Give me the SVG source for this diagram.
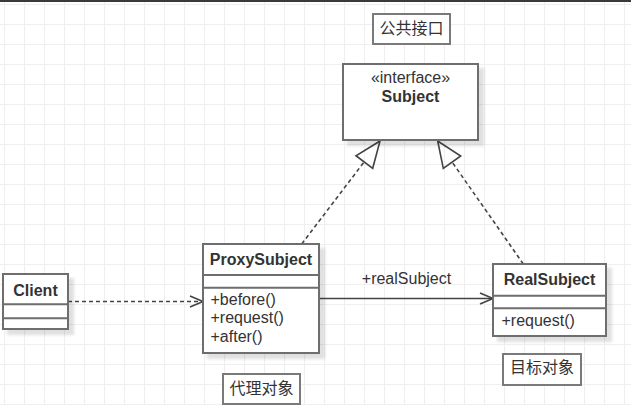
<svg xmlns="http://www.w3.org/2000/svg" width="631" height="405" viewBox="0 0 631 405">
<style>
.box{fill:#fff;stroke:#6e6e6e;stroke-width:2}
.lbl{fill:#fff;stroke:#7a7a7a;stroke-width:2}
.div{stroke:#6e6e6e;stroke-width:2}
.t{font-family:"Liberation Sans",Arial,sans-serif;font-size:16px;fill:#333}
.b{font-weight:bold}
.m{text-anchor:middle}
.cjk{font-family:"Liberation Sans","Noto Sans CJK SC",sans-serif;font-size:16px;fill:#333;text-anchor:middle}
.ln{fill:none;stroke:#444;stroke-width:1.6}
.dash{stroke-dasharray:4 3}
</style>
<defs>
<pattern id="grid" width="20" height="20" patternUnits="userSpaceOnUse" x="4" y="4">
<path d="M0 0.5H20M0.5 0V20" stroke="#efefef" stroke-width="1.2" fill="none"/>
</pattern>
<filter id="sh" x="-20%" y="-20%" width="150%" height="150%">
<feDropShadow dx="5" dy="5" stdDeviation="1.5" flood-color="#000" flood-opacity="0.12"/>
</filter>
</defs>
<rect width="631" height="405" fill="#fff"/>
<rect width="631" height="405" fill="url(#grid)"/>
<rect x="0" y="0" width="631" height="2" fill="#3a3a3a"/>

<g id="connectors">
<g id="client-proxy">
<path class="ln dash" d="M68 301.5H202"/>
<path class="ln" d="M190 296L203 301.5L190 307"/>
</g>
<g id="proxy-real">
<path class="ln" d="M319 298.5H492"/>
<path class="ln" d="M480 293L493 298.5L480 304"/>
<text class="t m" x="406.5" y="284">+realSubject</text>
</g>
<g id="proxy-subject">
<path class="ln dash" d="M301.7 244L364.3 161.7"/>
<path class="ln" fill="#fff" d="M380 141L356 155.7L372.7 168.3Z"/>
</g>
<g id="real-subject">
<path class="ln dash" d="M523.3 264L452.3 162.3"/>
<path class="ln" fill="#fff" d="M437.7 141L443.3 168.3L460.7 156Z"/>
</g>
</g>

<g id="label-interface">
<rect class="lbl" x="373" y="14" width="77" height="30"/>
<text class="cjk" x="411.5" y="34">公共接口</text>
</g>

<g id="Subject">
<rect class="box" filter="url(#sh)" x="343" y="64" width="135" height="76"/>
<text class="t m" x="410.5" y="82.5">«interface»</text>
<text class="t m b" x="410.5" y="101.5">Subject</text>
</g>

<g id="Client">
<rect class="box" filter="url(#sh)" x="3" y="274" width="65" height="55"/>
<path class="div" d="M3 304.3H68M3 318.3H68"/>
<text class="t m b" x="35.5" y="295.7">Client</text>
</g>

<g id="ProxySubject">
<rect class="box" filter="url(#sh)" x="203" y="244" width="116" height="109"/>
<path class="div" d="M203 275H319M203 287.7H319"/>
<text class="t m b" x="261" y="265">ProxySubject</text>
<text class="t" x="210.5" y="305">+before()</text>
<text class="t" x="210.5" y="323">+request()</text>
<text class="t" x="210.5" y="341.5">+after()</text>
</g>

<g id="RealSubject">
<rect class="box" filter="url(#sh)" x="493" y="264" width="113" height="72"/>
<path class="div" d="M493 295.7H606M493 308.3H606"/>
<text class="t m b" x="549.5" y="285">RealSubject</text>
<text class="t" x="501.5" y="326">+request()</text>
</g>

<g id="label-proxy">
<rect class="lbl" x="223" y="374" width="77" height="30"/>
<text class="cjk" x="261.5" y="393.5">代理对象</text>
</g>

<g id="label-real">
<rect class="lbl" x="503" y="354" width="78" height="31"/>
<text class="cjk" x="542" y="373">目标对象</text>
</g>
</svg>
